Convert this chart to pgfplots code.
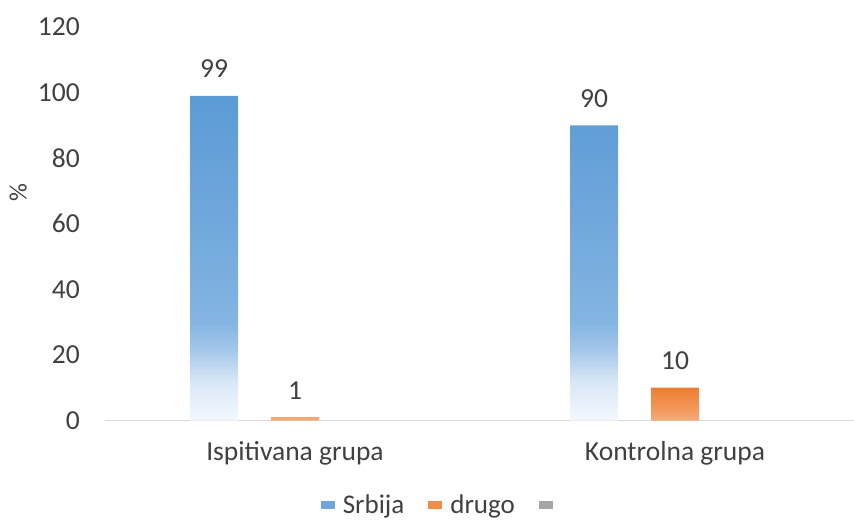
\documentclass[border=0pt]{standalone}
\usepackage{fontspec}
\setmainfont{Carlito}
\usepackage{pgfplots}
\pgfplotsset{compat=1.18}
\definecolor{txt}{HTML}{404040}
\definecolor{axisgray}{HTML}{D9D9D9}
\definecolor{bA}{HTML}{F4F8FD}
\definecolor{bB}{HTML}{D8E7F6}
\definecolor{bC}{HTML}{A3C6EA}
\definecolor{bD}{HTML}{84B5E2}
\definecolor{bE}{HTML}{72A8DC}
\definecolor{bF}{HTML}{5B9BD5}
\definecolor{oA}{HTML}{F4AD7C}
\definecolor{oB}{HTML}{F29A5E}
\definecolor{oC}{HTML}{F08A45}
\definecolor{oD}{HTML}{ED7D31}
\definecolor{legblue}{HTML}{6FA7DC}
\definecolor{legorange}{HTML}{F08C48}
\definecolor{leggray}{HTML}{A5A5A5}
\pgfdeclareverticalshading{blueshade}{100bp}{color(0bp)=(bA); color(25bp)=(bA); color(31bp)=(bB); color(36bp)=(bC); color(40bp)=(bD); color(55bp)=(bE); color(75bp)=(bF); color(100bp)=(bF)}
\pgfdeclareverticalshading{orangeshade}{100bp}{color(0bp)=(oA); color(25bp)=(oA); color(40bp)=(oB); color(60bp)=(oC); color(75bp)=(oD); color(100bp)=(oD)}
\newcommand{\fs}{\fontsize{27.5}{32}\selectfont}
\newcommand{\fl}{\fontsize{27}{32}\selectfont}
\begin{document}
\begin{tikzpicture}[x=1pt,y=1pt]
\path[use as bounding box] (0,0) rectangle (854,525);
\begin{axis}[
  at={(105pt,104.5pt)}, anchor=south west,
  width=748.6pt, height=393.6pt, scale only axis,
  xmin=-0.5, xmax=1.47, ymin=0, ymax=120,
  ytick={0,20,...,120}, xtick={0,1},
  xticklabels={Ispitivana grupa, Kontrolna grupa},
  axis line style={draw=none},
  major tick length=0pt, tick style={draw=none},
  /pgf/number format/assume math mode=true,
  tick label style={font=\fs, text=txt},
  yticklabel style={anchor=east, inner sep=0pt, xshift=-25pt},
  xticklabel style={anchor=base, inner sep=0pt, yshift=-40pt},
  ylabel={\%},
  ylabel style={at={(axis description cs:-0.116,0.58)}, anchor=center, font=\fontsize{25}{30}\selectfont, text=txt, inner sep=0pt},
  ybar, bar width=48pt,
  nodes near coords,
  every node near coord/.append style={font=\fs, text=txt, anchor=base, yshift=18pt, inner sep=0pt},
  legend style={at={(axis description cs:0.45,-0.215)}, anchor=center, draw=none, fill=none, font=\fl, text=txt, inner sep=0pt,
    /tikz/every odd column/.append style={column sep=6pt},
    /tikz/every even column/.append style={column sep=22pt}},
  legend columns=3,
  legend image code/.code={\fill[#1, draw=none] (0pt,-4pt) rectangle (14pt,4pt);},
]
\draw[axisgray, line width=1.3pt] (axis cs:-0.5,0) -- (axis cs:1.47,0);
\addplot[draw=none, shading=blueshade, bar shift=-81pt, forget plot] coordinates {(0,99) (1,90)};
\addplot[draw=none, shading=orangeshade, bar shift=0pt, forget plot] coordinates {(0,1) (1,10)};
\addlegendimage{fill=legblue}
\addlegendentry{Srbija}
\addlegendimage{fill=legorange}
\addlegendentry{drugo}
\addlegendimage{fill=leggray}
\addlegendentry{}
\end{axis}
\end{tikzpicture}
\end{document}
